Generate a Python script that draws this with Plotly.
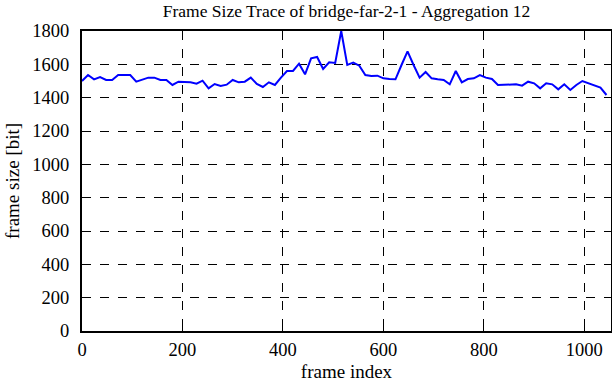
import plotly.graph_objects as go

frame_index = list(range(0, 1045, 12))
frame_size = [
    1500, 1536, 1510, 1524, 1506, 1506, 1536, 1536, 1536, 1496,
    1510, 1520, 1520, 1506, 1506, 1476, 1496, 1494, 1492, 1484,
    1502, 1456, 1482, 1470, 1478, 1506, 1492, 1496, 1520, 1482,
    1464, 1492, 1476, 1520, 1560, 1560, 1604, 1540, 1636, 1644,
    1572, 1612, 1608, 1800, 1596, 1610, 1592, 1536, 1530, 1532,
    1516, 1512, 1510, 1596, 1678, 1596, 1520, 1554, 1516, 1510,
    1506, 1480, 1560, 1492, 1512, 1516, 1536, 1520, 1512, 1476,
    1476, 1476, 1480, 1472, 1496, 1486, 1456, 1486, 1480, 1450,
    1480, 1446, 1476, 1500, 1486, 1470, 1460, 1416,
]
x_ticks = [0, 200, 400, 600, 800, 1000]
y_ticks = [0, 200, 400, 600, 800, 1000, 1200, 1400, 1600, 1800]

fig = go.Figure()
fig.add_trace(go.Scatter(
    x=frame_index, y=frame_size, mode="lines",
    line=dict(color="#0000ff", width=2), showlegend=False,
))

family = "Liberation Serif, Times New Roman, serif"
tick_font = dict(family=family, size=18.5, color="black")
title_font = dict(family=family, size=19, color="black")
axis_common = dict(
    showline=True, linecolor="black", linewidth=2, mirror="ticks",
    ticks="inside", ticklen=5, tickcolor="black", tickwidth=1,
    showgrid=True, gridcolor="black", gridwidth=1, griddash="dash",
    zeroline=False, tickfont=tick_font, automargin=False,
)
fig.update_layout(
    width=612, height=382,
    margin=dict(l=82, r=1, t=31, b=51, autoexpand=False),
    paper_bgcolor="white", plot_bgcolor="white",
    font=tick_font,
    title=dict(text="Frame Size Trace of bridge-far-2-1 - Aggregation 12",
               x=0.5, xref="paper", xanchor="center", y=1 - 11 / 382, yref="container",
               yanchor="middle", font=dict(family=family, size=17.5, color="black")),
    xaxis=dict(range=[0, 1053], tickvals=x_ticks, ticklabelstandoff=1,
               title=dict(text="frame index", font=title_font, standoff=6), **axis_common),
    yaxis=dict(range=[0, 1800], tickvals=y_ticks, ticklabelstandoff=7,
               title=dict(text="frame size [bit]", font=title_font, standoff=8), **axis_common),
)
fig.write_html("out.html", config={"displayModeBar": False},
               post_script="document.body.style.margin='0';")
